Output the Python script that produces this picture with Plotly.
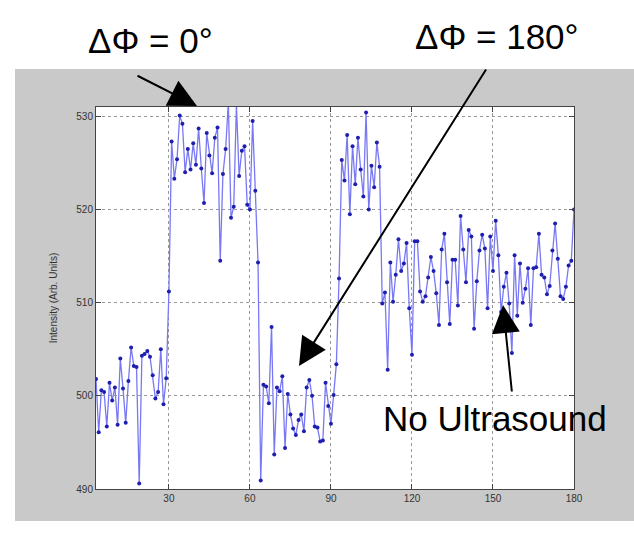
import plotly.graph_objects as go

# Sample index along the scan and measured intensity (arbitrary units)
sample = list(range(3, 181))
intensity = [
    # 3-29 : baseline before phase step
    501.8, 496.1, 500.6, 500.4, 496.7, 501.4, 499.5, 500.9, 496.9, 504.0,
    500.8, 497.1, 501.6, 505.2, 503.2, 503.1, 490.6, 504.3, 504.5, 504.8,
    504.2, 502.2, 499.7, 500.4, 505.0, 499.1, 501.9,
    # 30-63 : in-phase (0 deg)
    511.2, 527.3, 523.3, 525.4, 530.1, 529.2, 524.0, 526.5, 524.3, 527.1,
    524.8, 528.7, 524.4, 520.7, 528.2, 525.8, 523.9, 527.7, 528.8, 514.5,
    523.8, 526.5, 531.5, 519.1, 520.3, 531.2, 523.6, 526.3, 526.8, 520.5,
    520.0, 529.5, 522.0, 514.3,
    # 64-92 : anti-phase (180 deg)
    490.9, 501.2, 501.0, 499.2, 507.4, 493.7, 500.9, 500.5, 502.1, 494.4,
    500.2, 498.0, 496.5, 495.8, 497.4, 498.0, 496.2, 500.9, 501.7, 500.0,
    496.7, 496.6, 495.1, 495.2, 501.4, 498.9, 497.0, 500.1, 503.4,
    # 93-109 : in-phase again
    512.6, 525.3, 523.1, 528.0, 519.5, 526.8, 522.7, 527.7, 524.3, 521.4,
    530.4, 520.0, 524.7, 522.4, 527.2, 524.6, 509.9,
    # 110-180 : ultrasound off
    511.1, 502.8, 514.3, 510.1, 513.0, 516.8, 513.4, 514.2, 516.4, 509.4,
    504.4, 516.6, 516.6, 511.2, 510.1, 510.7, 512.7, 514.9, 513.4, 511.0,
    507.6, 515.7, 517.4, 512.2, 507.7, 514.6, 514.6, 509.7, 519.3, 515.7,
    512.2, 517.8, 517.1, 507.2, 512.3, 515.6, 517.3, 515.8, 509.4, 517.1,
    513.4, 518.8, 515.1, 509.0, 511.7, 513.2, 509.9, 504.6, 515.1, 508.6,
    514.2, 510.0, 511.5, 513.7, 507.6, 513.7, 513.8, 517.4, 513.0, 512.7,
    510.9, 511.8, 515.6, 518.5, 514.7, 510.7, 510.4, 511.7, 514.0, 514.5,
    520.0,
]

x_ticks = [30, 60, 90, 120, 150, 180]
y_ticks = [490, 500, 510, 520, 530]

W, H = 634, 533
L, R, T, B = 96, 60, 107, 44
pw, ph = W - L - R, H - T - B


def px(xp):
    return (xp - L) / pw


def py(yp):
    return (H - B - yp) / ph


fig = go.Figure()
fig.add_trace(go.Scatter(
    x=sample, y=intensity, mode="lines+markers",
    line=dict(color="rgb(120,120,245)", width=1.3),
    marker=dict(color="rgb(30,30,175)", size=4),
    showlegend=False,
))

axis_common = dict(
    showline=True, linecolor="#444", linewidth=1, mirror="ticks",
    ticks="inside", ticklen=5, tickcolor="#444",
    showgrid=True, gridcolor="#999999", griddash="dot", gridwidth=1,
    zeroline=False,
    tickfont=dict(family="Liberation Sans, Arial", size=10, color="#333"),
)

fig.update_xaxes(range=[3, 180], tickvals=x_ticks, **axis_common)
fig.update_yaxes(range=[490, 531], tickvals=y_ticks,
                 title=dict(text="Intensity (Arb. Units)", standoff=16,
                            font=dict(family="Liberation Sans, Arial", size=10, color="#333")),
                 **axis_common)

# figure panel (grey) and white axes area
shapes = [
    dict(type="rect", xref="paper", yref="paper", layer="below",
         x0=px(15), x1=px(634), y0=py(521), y1=py(69),
         fillcolor="#c9c9c9", line=dict(width=0)),
    dict(type="rect", xref="paper", yref="paper", layer="below",
         x0=0, x1=1, y0=0, y1=1, fillcolor="white", line=dict(width=0)),
]

label_font = dict(family="Liberation Sans, Arial", size=35, color="black")
arrow_style = dict(showarrow=True, arrowhead=2, arrowsize=2.8, arrowwidth=2,
                   arrowcolor="black", axref="pixel", ayref="pixel", text="",
                   standoff=0, startstandoff=0)

annotations = [
    dict(x=px(150), y=py(40), xref="paper", yref="paper", text="ΔΦ = 0°",
         showarrow=False, font=label_font, xanchor="center", yanchor="middle"),
    dict(x=px(497), y=py(36), xref="paper", yref="paper", text="ΔΦ = 180°",
         showarrow=False, font=label_font, xanchor="center", yanchor="middle"),
    dict(x=px(495), y=py(418), xref="paper", yref="paper", text="No Ultrasound",
         showarrow=False, font=label_font, xanchor="center", yanchor="middle"),
    dict(x=px(197), y=py(106), xref="paper", yref="paper", ax=-61, ay=-31, **arrow_style),
    dict(x=px(299), y=py(366), xref="paper", yref="paper", ax=188, ay=-298, **arrow_style),
    dict(x=px(503), y=py(305), xref="paper", yref="paper", ax=9, ay=88, **arrow_style),
]

fig.update_layout(
    width=W, height=H, autosize=False,
    margin=dict(l=L, r=R, t=T, b=B, pad=0),
    paper_bgcolor="white", plot_bgcolor="white",
    shapes=shapes, annotations=annotations,
    font=dict(family="Liberation Sans, Arial"),
)

fig.write_html("out.html")
